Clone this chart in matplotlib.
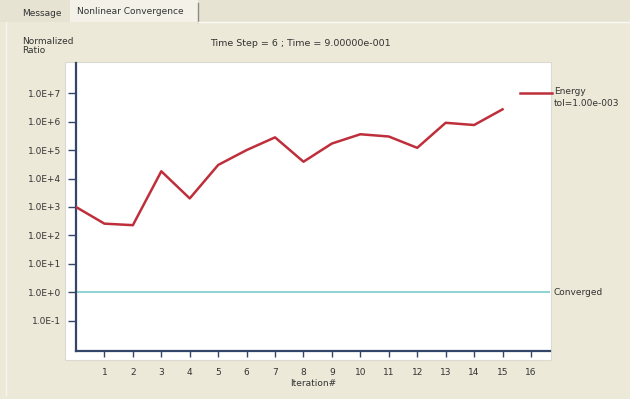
import matplotlib
matplotlib.use("Agg")
import matplotlib.pyplot as plt
from matplotlib.patches import Rectangle
from matplotlib.lines import Line2D
import numpy as np

plt.rcParams['font.family'] = ['DejaVu Sans']

# ========== data ==========
iterations = list(range(0, 16))
energy_ratio = [1.0e3, 2.6e2, 2.3e2, 1.8e4, 2.0e3, 3.0e4, 1.0e5, 2.8e5,
                3.9e4, 1.7e5, 3.6e5, 3.0e5, 1.2e5, 9.1e5, 7.6e5, 2.7e6]
converged_level = 1.0
y_exponents = [-1, 0, 1, 2, 3, 4, 5, 6, 7]
x_ticks = list(range(1, 17))

title_text = "Time Step = 6 ; Time = 9.00000e-001"
energy_label = "Energy\ntol=1.00e-003"

# ========== colours ==========
BG = '#ECE9D8'
AXIS = '#34456A'
RED = '#BE2F3B'
TEAL = '#86D0D0'
TXT = '#333333'

W, H = 630, 399
fig = plt.figure(figsize=(W / 100, H / 100), dpi=100, facecolor=BG)


def fx(px):
    return px / W


def fy(py):
    return 1 - py / H


# tab strip at the top
fig.add_artist(Rectangle((0, fy(22)), 1, 22 / H, transform=fig.transFigure,
                         facecolor='#E6E3D3', edgecolor='none', zorder=0))
fig.add_artist(Rectangle((fx(70), fy(22)), fx(128), 22 / H, transform=fig.transFigure,
                         facecolor='#F3F1E8', edgecolor='none', zorder=0))
fig.add_artist(Line2D([fx(198), fx(198)], [fy(3), fy(22)], transform=fig.transFigure,
                      color='#8E8C80', lw=1.0))
fig.add_artist(Line2D([fx(198), 1], [fy(21.5), fy(21.5)], transform=fig.transFigure,
                      color='#FAF9F4', lw=1.0))
fig.add_artist(Line2D([fx(6), fx(6)], [fy(22), fy(395)], transform=fig.transFigure,
                      color='#F6F5EE', lw=1.0))
fig.text(fx(22), fy(13), "Message", fontsize=6.5, color=TXT, va='center')
fig.text(fx(77), fy(11), "Nonlinear Convergence", fontsize=6.5, color=TXT, va='center')

# white plot panel
fig.add_artist(Rectangle((fx(65), fy(360)), fx(486), 298 / H, transform=fig.transFigure,
                         facecolor='white', edgecolor='#DCDAD0', lw=0.8, zorder=0))

fig.text(fx(22), fy(46), "Normalized\nRatio", fontsize=6.5, color=TXT,
         va='center', linespacing=0.95)
fig.text(fx(300), fy(44), title_text, fontsize=6.8, color=TXT, ha='center', va='center')

# ========== axes ==========
ax = fig.add_axes([fx(76), fy(351), fx(474), (351 - 63) / H])
ax.patch.set_alpha(0)
ax.set_yscale('log')
ax.set_xlim(0, 16.67)
ax.set_ylim(10 ** -2.06, 10 ** 8.06)

ax.axhline(converged_level, color=TEAL, lw=1.3, zorder=2)
ax.plot(iterations, energy_ratio, color=RED, lw=1.8, zorder=3)

for side in ('top', 'right'):
    ax.spines[side].set_visible(False)
for side in ('left', 'bottom'):
    ax.spines[side].set_color(AXIS)
    ax.spines[side].set_linewidth(1.6)

ax.set_yticks([10.0 ** e for e in y_exponents])
ax.set_yticklabels([f"1.0E{e:+d}" for e in y_exponents])
ax.yaxis.set_minor_locator(plt.NullLocator())
ax.set_xticks(x_ticks)
ax.set_xticklabels([str(t) for t in x_ticks])
ax.tick_params(axis='y', direction='out', length=6, width=1.0, color=AXIS,
               labelsize=6.5, labelcolor=TXT, pad=5)
ax.tick_params(axis='x', direction='out', length=4.5, width=1.0, color=AXIS,
               labelsize=6.5, labelcolor=TXT, pad=8)
ax.set_xlabel("Iteration#", fontsize=6.5, color=TXT, labelpad=1)

# series labels on the right
fig.add_artist(Line2D([fx(520), fx(552)], [fy(93), fy(93)], transform=fig.transFigure,
                      color=RED, lw=1.8))
fig.text(fx(554), fy(87), energy_label, fontsize=6.5, color=TXT, va='top',
         linespacing=1.45)
ax.text(1.008, converged_level, "Converged", transform=ax.get_yaxis_transform(),
        fontsize=6.5, color=TXT, va='center', ha='left')

fig.savefig("out.png", dpi=100, facecolor=BG)
